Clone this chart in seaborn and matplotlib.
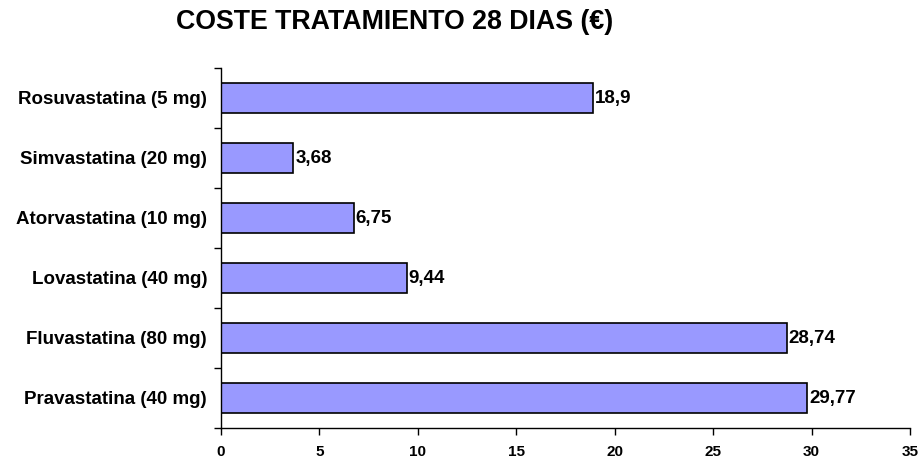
import matplotlib
matplotlib.use("Agg")
import matplotlib.pyplot as plt
import seaborn as sns
import pandas as pd
import numpy as np

drugs = [
    "Rosuvastatina (5 mg)",
    "Simvastatina (20 mg)",
    "Atorvastatina (10 mg)",
    "Lovastatina (40 mg)",
    "Fluvastatina (80 mg)",
    "Pravastatina (40 mg)",
]
cost = [18.9, 3.68, 6.75, 9.44, 28.74, 29.77]
cost_labels = ["18,9", "3,68", "6,75", "9,44", "28,74", "29,77"]
x_ticks = [0, 5, 10, 15, 20, 25, 30, 35]

sns.set_style("white")
plt.rcParams["font.family"] = ["Liberation Sans", "DejaVu Sans"]
plt.rcParams["font.weight"] = "bold"
plt.rcParams["text.color"] = "black"
plt.rcParams["xtick.color"] = "black"
plt.rcParams["ytick.color"] = "black"

df = pd.DataFrame({"drug": drugs, "cost": cost})

fig = plt.figure(figsize=(9.18, 4.62), dpi=100)
ax = fig.add_axes([221 / 918, 1 - 428 / 462, 689 / 918, 360 / 462])

sns.barplot(data=df, x="cost", y="drug", orient="h", color="#9999FF",
            saturation=1, width=0.5, edgecolor="black", linewidth=1.2, ax=ax)

for i, (v, lab) in enumerate(zip(cost, cost_labels)):
    ax.text(v + 0.1, i, lab, va="center", ha="left", fontsize=13.5,
            fontweight="bold", color="black")

ax.set_xlim(0, 35)
ax.set_ylim(5.5, -0.5)
ax.set_xticks(x_ticks)
ax.set_xticklabels([str(t) for t in x_ticks], fontsize=11, fontweight="bold")
ax.set_yticks(range(len(drugs)))
ax.set_yticklabels(drugs, fontsize=13.5, fontweight="bold")
ax.set_yticks(np.arange(-0.5, len(drugs), 1), minor=True)
ax.tick_params(axis="y", which="major", length=0, pad=10, left=True)
ax.tick_params(axis="y", which="minor", length=5, width=1, direction="out", left=True)
ax.tick_params(axis="x", which="major", length=5, width=1, direction="out",
               pad=7, bottom=True)
ax.set_xlabel("")
ax.set_ylabel("")

for s in ["top", "right"]:
    ax.spines[s].set_visible(False)
for s in ["left", "bottom"]:
    ax.spines[s].set_color("black")
    ax.spines[s].set_linewidth(1)

fig.text(395 / 918, 1 - 22 / 462, "COSTE TRATAMIENTO 28 DIAS (€)",
         ha="center", va="center", fontsize=19.3, fontweight="bold")

fig.savefig("out.png", dpi=100, facecolor="white")
